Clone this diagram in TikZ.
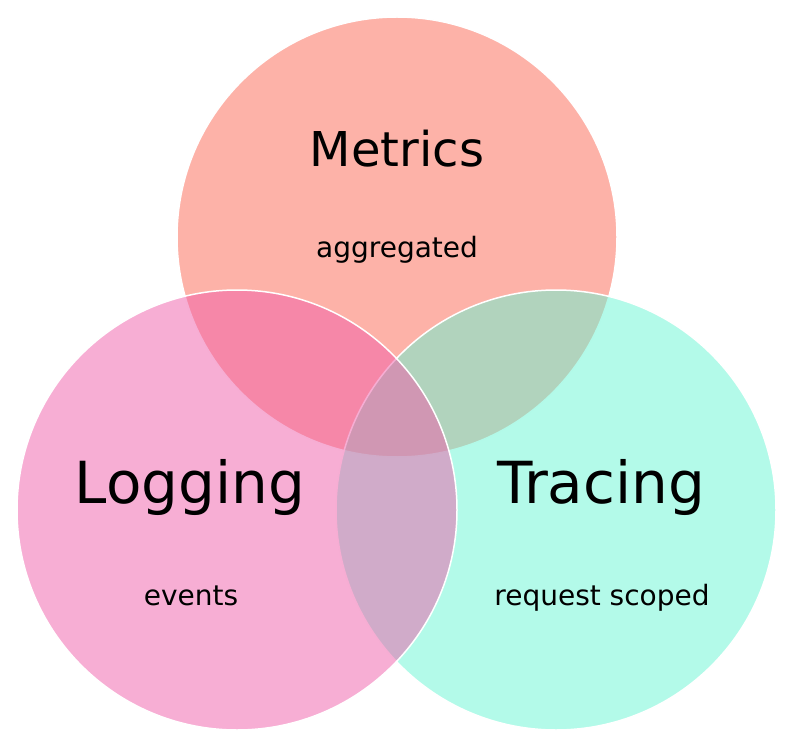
\documentclass[tikz,border=0pt]{standalone}
\usepackage{fontspec}
\setmainfont{DejaVu Sans}
\definecolor{metricsc}{RGB}{251,101,81}
\definecolor{tracingc}{RGB}{103,245,211}
\definecolor{loggingc}{RGB}{239,93,169}
\tikzset{
  setdisc/.style={circle, inner sep=0pt, minimum size=440pt, draw=white,
    line width=1.5pt, fill opacity=0.5},
  bigtitle/.style={anchor=base, text=black, font=\fontsize{58}{60}\selectfont},
  smalltitle/.style={anchor=base, text=black, font=\fontsize{48}{50}\selectfont},
  caption/.style={anchor=base, text=black, font=\fontsize{28}{30}\selectfont},
}
\begin{document}
\begin{tikzpicture}[x=1pt, y=-1pt]
  \useasboundingbox (0,0) rectangle (797,743);
  % the three sets, drawn back to front
  \node[setdisc, fill=metricsc] (metrics) at (397,237) {};
  \node[setdisc, fill=tracingc] (tracing) at (556,510) {};
  \node[setdisc, fill=loggingc] (logging) at (237,510) {};
  % labels
  \node[smalltitle] (mt) at (397,167) {Metrics};
  \node[caption] (ms) at (397,258) {aggregated};
  \node[bigtitle] (lt) at (190,503) {Logging};
  \node[caption] (ls) at (191,605) {events};
  \node[bigtitle] (tt) at (601,503) {Tracing};
  \node[caption] (ts) at (602,605) {request scoped};
\end{tikzpicture}
\end{document}
